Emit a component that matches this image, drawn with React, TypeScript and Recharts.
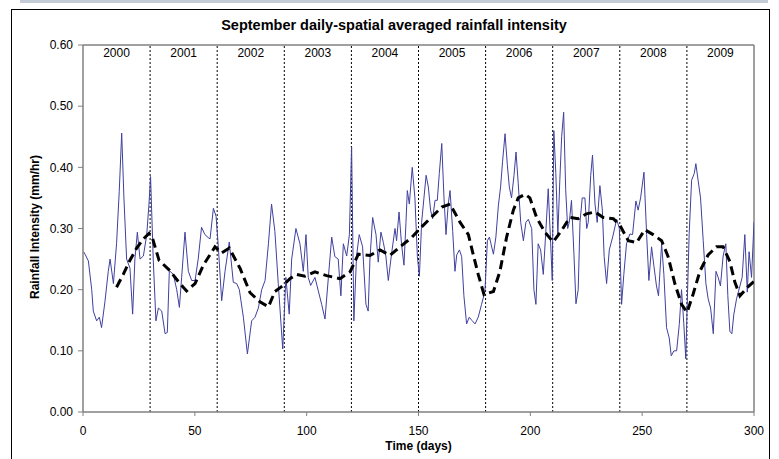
import React from 'react';
import { LineChart, Line, XAxis, YAxis, ReferenceLine } from 'recharts';

const dailyDays = [
  0.3, 0.9, 2.4, 3.9, 4.6, 6.1, 7.3, 8.3, 9.8, 11.3, 12.1, 13.6, 15.0, 16.2, 17.3, 18.3, 19.5, 21.0, 22.2, 23.2,
  24.3, 25.5, 27.0, 28.5, 29.5, 30.2, 31.4, 32.6, 33.7, 35.2, 36.7, 37.7, 38.6, 40.4, 41.9, 43.1, 44.1, 45.6, 47.1,
  48.6, 50.1, 51.5, 53.0, 54.5, 56.0, 56.8, 58.3, 59.5, 60.5, 62.0, 63.5, 65.4, 67.2, 68.7, 69.9, 71.7, 73.5, 75.4,
  76.9, 78.4, 79.9, 81.4, 82.9, 84.3, 85.8, 87.3, 89.3, 90.7, 92.2, 93.3, 95.2,
  97.0, 98.5, 99.7, 100.7, 101.8, 103.7, 105.2, 106.7, 108.2, 109.7, 111.2, 112.6, 114.1, 115.3, 116.4, 117.9, 119.1,
  120.1, 121.1, 122.3, 123.5, 125.0, 126.5, 127.5, 128.3, 129.5, 131.0, 132.0, 133.2, 134.3, 135.4, 136.5, 138.0,
  139.5, 140.2, 141.3, 142.4, 143.5, 144.4, 145.0, 145.9, 147.2, 148.4, 149.5, 150.4, 151.4, 153.4, 154.4, 155.4,
  156.3, 157.4, 158.4, 159.3, 160.4, 161.4, 162.3, 163.3, 164.1, 165.3, 166.3, 167.1, 168.3, 169.3, 170.3, 171.5,
  172.7, 173.8, 175.3, 176.7, 178.2, 179.7, 180.8, 181.7, 182.4, 183.5, 184.6, 185.7, 186.7, 187.6, 188.7, 189.7,
  190.6, 191.6, 192.7, 193.6, 194.6, 195.7, 196.9, 198.0, 199.1, 200.6, 201.6, 202.5, 203.5, 204.6, 205.8, 207.0,
  208.0, 209.1, 209.8, 210.5, 211.4, 212.3, 213.2, 214.0, 214.9, 215.8, 216.7, 217.4, 218.4, 219.5, 220.4, 221.4,
  222.2, 223.2, 224.4, 225.2, 225.9, 227.0, 227.8, 228.9, 229.9, 231.1, 232.2, 233.0, 234.1, 235.3, 236.8, 238.6,
  239.8, 240.8, 241.8, 243.0, 244.5, 245.7, 247.2, 248.2, 249.3, 250.8, 252.0, 253.0, 254.2, 255.2, 256.4, 257.3,
  258.7, 259.7, 260.9, 262.1, 263.0, 264.2, 265.4, 266.6, 267.6, 268.6, 269.5, 270.1, 271.0, 272.1, 273.3, 274.0,
  275.0, 276.1, 277.3, 278.5, 279.5, 280.6, 281.8, 283.0, 284.0, 285.0, 286.2, 287.4, 288.3, 289.2, 290.1, 291.0,
  292.2, 293.7, 294.7, 295.9, 297.0, 297.8, 298.9, 300.0,
];
const dailyValues = [
  0.262, 0.258, 0.247, 0.2, 0.165, 0.149, 0.155, 0.138, 0.18, 0.23, 0.25, 0.21, 0.275, 0.36, 0.456, 0.35, 0.25, 0.235, 0.16, 0.25,
  0.294, 0.25, 0.255, 0.29, 0.34, 0.385, 0.25, 0.149, 0.17, 0.165, 0.128, 0.13, 0.231, 0.225, 0.2, 0.171, 0.22, 0.294, 0.23,
  0.215, 0.215, 0.25, 0.302, 0.29, 0.285, 0.283, 0.333, 0.32, 0.27, 0.182, 0.23, 0.278, 0.212, 0.21, 0.2, 0.155, 0.095, 0.149,
  0.155, 0.17, 0.2, 0.215, 0.275, 0.34, 0.295, 0.21, 0.103, 0.22, 0.16, 0.25, 0.3,
  0.275, 0.23, 0.29, 0.22, 0.207, 0.22, 0.198, 0.176, 0.152, 0.22, 0.286, 0.254, 0.25, 0.19, 0.275, 0.255, 0.29,
  0.433, 0.149, 0.255, 0.29, 0.27, 0.176, 0.165, 0.25, 0.318, 0.29, 0.245, 0.294, 0.277, 0.255, 0.215, 0.26,
  0.3, 0.28, 0.327, 0.275, 0.24, 0.31, 0.362, 0.34, 0.4, 0.35, 0.254, 0.222, 0.31, 0.387, 0.368, 0.33,
  0.316, 0.346, 0.346, 0.39, 0.439, 0.35, 0.29, 0.34, 0.362, 0.295, 0.23, 0.257, 0.265, 0.254, 0.19, 0.144,
  0.155, 0.15, 0.144, 0.155, 0.176, 0.197, 0.28, 0.286, 0.275, 0.258, 0.286, 0.337, 0.368, 0.41, 0.455, 0.405,
  0.368, 0.35, 0.387, 0.425, 0.373, 0.31, 0.28, 0.31, 0.315, 0.3, 0.2, 0.176, 0.275, 0.265, 0.225, 0.3,
  0.365, 0.275, 0.215, 0.46, 0.39, 0.29, 0.38, 0.45, 0.49, 0.364, 0.3, 0.31, 0.346, 0.258, 0.177, 0.2,
  0.31, 0.35, 0.35, 0.3, 0.31, 0.387, 0.42, 0.34, 0.31, 0.37, 0.33, 0.254, 0.21, 0.265, 0.286, 0.315,
  0.3, 0.176, 0.225, 0.275, 0.291, 0.29, 0.345, 0.33, 0.35, 0.392, 0.29, 0.215, 0.27, 0.24, 0.206, 0.19,
  0.275, 0.225, 0.138, 0.121, 0.092, 0.1, 0.1, 0.143, 0.2, 0.145, 0.087, 0.17, 0.29, 0.379, 0.39, 0.406,
  0.379, 0.35, 0.28, 0.21, 0.185, 0.17, 0.128, 0.23, 0.22, 0.206, 0.255, 0.275, 0.19, 0.132, 0.128, 0.16,
  0.185, 0.206, 0.22, 0.29, 0.196, 0.262, 0.22, 0.31,
];

const avgDays = [
  15.0, 18.0, 21.0, 24.0, 27.0, 29.5, 31.0, 34.0, 38.6, 43.3, 46.3, 50.1, 53.8, 59.0, 62.0, 65.4, 70.2, 74.7,
  79.1, 82.9, 85.8, 89.5, 92.5, 95.5, 99.2, 103.7, 108.9, 114.9, 119.4, 123.1, 128.3, 132.8, 137.2, 141.7, 146.9,
  150.7, 155.1, 160.4, 164.1, 168.6, 172.3, 174.5, 176.7, 179.3, 183.5, 186.4, 189.4, 192.4, 194.6, 197.6, 199.8,
  202.8, 206.5, 210.2, 214.0, 217.7, 221.4, 225.1, 228.9, 232.6, 237.1, 240.1, 243.8, 247.5, 251.2, 254.9, 258.7,
  261.6, 264.6, 267.6, 270.1, 272.8, 275.8, 279.5, 283.2, 286.2, 289.2, 291.4, 293.7, 297.4, 299.9,
];
const avgValues = [
  0.204, 0.225, 0.248, 0.268, 0.283, 0.292, 0.285, 0.248, 0.232, 0.21, 0.198, 0.21, 0.24, 0.27, 0.26, 0.268, 0.235, 0.195,
  0.18, 0.172, 0.197, 0.207, 0.218, 0.225, 0.222, 0.229, 0.223, 0.218, 0.229, 0.258, 0.256, 0.265, 0.256, 0.27, 0.285,
  0.3, 0.316, 0.335, 0.34, 0.31, 0.29, 0.257, 0.225, 0.192, 0.197, 0.23, 0.286, 0.33, 0.35, 0.356, 0.35,
  0.318, 0.294, 0.278, 0.297, 0.318, 0.316, 0.324, 0.327, 0.318, 0.316, 0.305, 0.28, 0.277, 0.298, 0.29, 0.28,
  0.254, 0.21, 0.176, 0.163, 0.193, 0.23, 0.257, 0.27, 0.27, 0.246, 0.213, 0.19, 0.205, 0.213,
];

const yearLabels = ['2000', '2001', '2002', '2003', '2004', '2005', '2006', '2007', '2008', '2009'];
const yearBoundaries = [30, 60, 90, 120, 150, 180, 210, 240, 270];
const xTicks = [0, 50, 100, 150, 200, 250, 300];
const yTicks = [0, 0.1, 0.2, 0.3, 0.4, 0.5, 0.6];

const titleText = 'September daily-spatial averaged rainfall intensity';
const xLabel = 'Time (days)';
const yLabel = 'Rainfall Intensity (mm/hr)';

const dailyData = dailyDays.map((d, i) => ({ day: d, value: dailyValues[i] }));
const avgData = avgDays.map((d, i) => ({ day: d, avg: avgValues[i] }));

const FONT = '"Liberation Sans", Arial, sans-serif';
const GREY = '#808080';

export default function App() {
  return (
    <div style={{ position: 'absolute', left: 0, top: 0, width: 779, height: 459, overflow: 'hidden', background: '#fff', fontFamily: FONT }}>
      <div style={{ position: 'absolute', left: 20, top: 0, width: 748, height: 3, background: '#c3ccd6' }} />
      <div style={{ position: 'absolute', left: 11, top: 9, width: 759, height: 470, border: '1px solid #000', boxSizing: 'border-box' }} />
      <div style={{ position: 'absolute', left: 94, top: 16, width: 600, textAlign: 'center', fontWeight: 'bold', fontSize: 14.5, lineHeight: '18px', color: '#000' }}>
        {titleText}
      </div>
      <div style={{ position: 'absolute', left: 0, top: 439, width: 837, textAlign: 'center', fontWeight: 'bold', fontSize: 12, color: '#000' }}>
        {xLabel}
      </div>
      <div style={{ position: 'absolute', left: 35, top: 228, width: 0, height: 0 }}>
        <div style={{ position: 'absolute', left: -100, top: -8, width: 200, textAlign: 'center', fontWeight: 'bold', fontSize: 12, transform: 'rotate(-90deg)', color: '#000' }}>
          {yLabel}
        </div>
      </div>
      <div style={{ position: 'absolute', left: 0, top: 0 }}>
        <LineChart width={779} height={459} margin={{ top: 45, right: 25, bottom: 7, left: 0 }}>
          <XAxis
            dataKey="day"
            type="number"
            domain={[0, 300]}
            ticks={xTicks}
            allowDataOverflow
            height={40}
            tickSize={4}
            tickMargin={10}
            axisLine={{ stroke: GREY, strokeWidth: 1.5 }}
            tickLine={{ stroke: GREY }}
            tick={{ fill: '#000', fontSize: 12, fontFamily: FONT }}
          />
          <YAxis
            type="number"
            domain={[0, 0.6]}
            ticks={yTicks}
            width={83}
            tickSize={5}
            tickMargin={5}
            tickFormatter={(v: number) => v.toFixed(2)}
            axisLine={{ stroke: GREY, strokeWidth: 1.5 }}
            tickLine={{ stroke: GREY }}
            tick={{ fill: '#000', fontSize: 12, fontFamily: FONT }}
          />
          <ReferenceLine y={0.6} stroke={GREY} strokeWidth={1.5} />
          <ReferenceLine x={300} stroke={GREY} strokeWidth={1.5} />
          {yearBoundaries.map((b) => (
            <ReferenceLine key={b} x={b} stroke="#000" strokeDasharray="2 2" strokeWidth={1} />
          ))}
          {yearLabels.map((y, i) => (
            <ReferenceLine
              key={y}
              x={15 + 30 * i}
              stroke="none"
              label={{ value: y, position: 'insideTop', offset: 3, fill: '#000', fontSize: 12, fontFamily: FONT }}
            />
          ))}
          <Line
            data={dailyData}
            dataKey="value"
            type="linear"
            stroke="#4040a0"
            strokeWidth={1}
            dot={false}
            isAnimationActive={false}
          />
          <Line
            data={avgData}
            dataKey="avg"
            type="linear"
            stroke="#000"
            strokeWidth={3}
            strokeDasharray="9 5"
            dot={false}
            isAnimationActive={false}
          />
        </LineChart>
      </div>
    </div>
  );
}
